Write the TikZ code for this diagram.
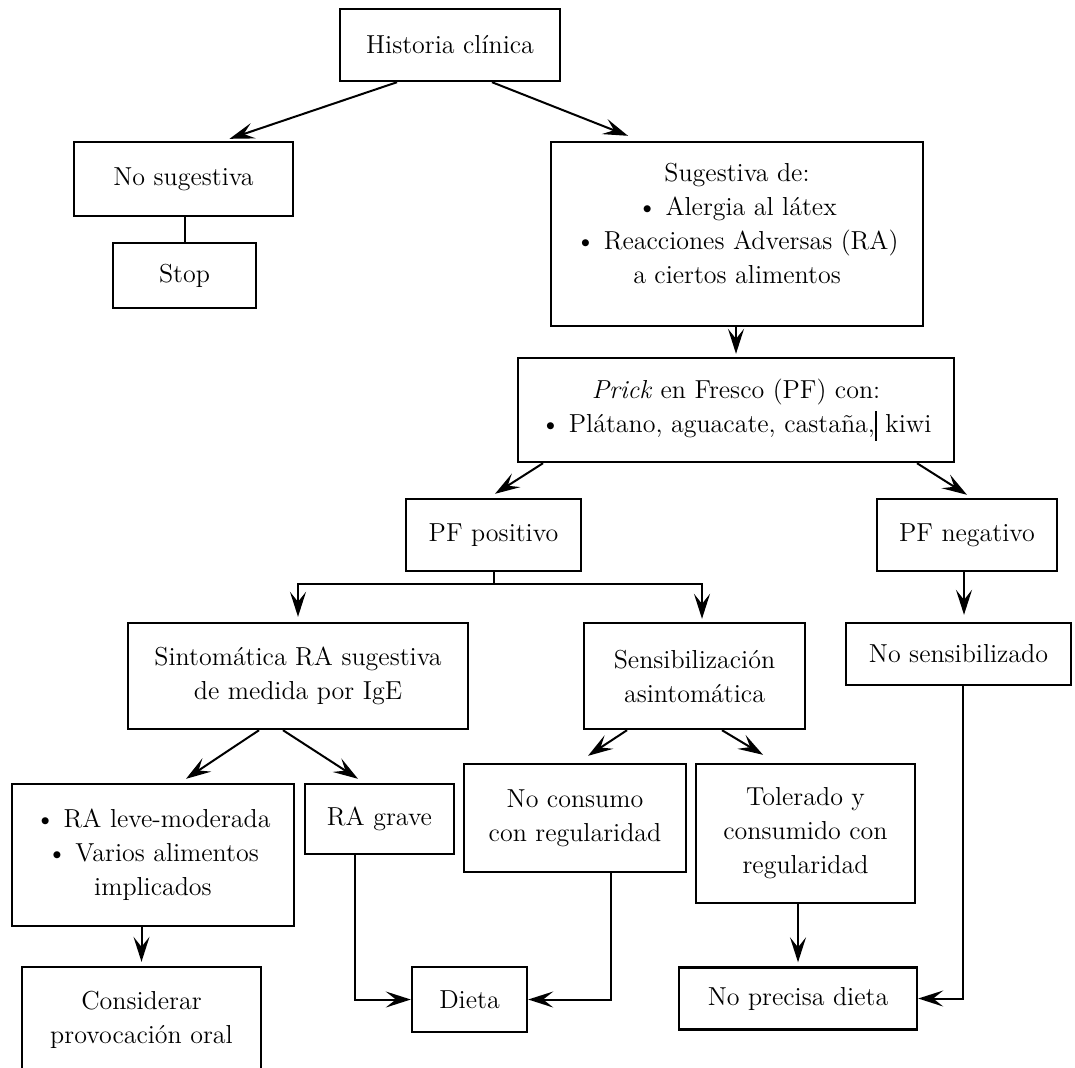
\documentclass[tikz,border=0pt]{standalone}
\usepackage{fontspec}
\usepackage{tikz}
\usetikzlibrary{arrows.meta, positioning, calc}

\begin{document}
\begin{tikzpicture}[
  x=0.5pt, y=-0.5pt,
  >={Stealth[length=12.5pt, width=8pt, inset=5pt]},
  box/.style={
    draw, line width=1.2pt, inner sep=2pt, align=center,
    font=\fontsize{13}{17}\selectfont
  },
  arr/.style={->, line width=1pt},
  link/.style={line width=1pt},
]

%%% Canvas (pixel grid of the page)
\useasboundingbox (0,0) rectangle (1075,1067);
\clip (0,0) rectangle (1075,1067);

%%% Row 1
\node[box, minimum width=110pt, minimum height=36pt] (hist) at (450,45)
  {Historia clínica};

%%% Row 2
\node[box, minimum width=109.5pt, minimum height=37pt] (nosug) at (183.5,179)
  {No sugestiva};
\node[box, minimum width=71.5pt, minimum height=32.5pt] (stop) at (184.5,275.5)
  {Stop};
\node[box, minimum width=186pt, minimum height=92pt] (sug) at (737,234)
  {Sugestiva de:\\ \textbullet\ Alergia al látex\\
   \textbullet\ Reacciones Adversas (RA)\\ a ciertos alimentos\\[-6pt]};

%%% Row 3
\node[box, minimum width=218pt, minimum height=52pt] (prick) at (736,410)
  {\textit{Prick} en Fresco (PF) con:\\
   \textbullet\ Plátano, aguacate, castaña,\rule[-4pt]{1pt}{15pt}\ kiwi};

%%% Row 4
\node[box, minimum width=87.5pt, minimum height=36pt] (pfpos) at (493.5,535)
  {PF positivo};
\node[box, minimum width=90pt, minimum height=36pt] (pfneg) at (967,535)
  {PF negativo};

%%% Row 5
\node[box, minimum width=170pt, minimum height=53pt] (sint) at (298,676)
  {Sintomática RA sugestiva\\ de medida por IgE};
\node[box, minimum width=110.5pt, minimum height=53pt] (sens) at (694.5,676)
  {Sensibilización\\ asintomática};
\node[box, minimum width=112.5pt, minimum height=31pt] (nosens) at (958.5,654)
  {No sensibilizado};

%%% Row 6
\node[box, minimum width=141pt, minimum height=71pt] (leve) at (153,855)
  {\textbullet\ RA leve-moderada\\ \textbullet\ Varios alimentos\\ implicados};
\node[box, minimum width=74.5pt, minimum height=35pt] (grave) at (379.5,819)
  {RA grave};
\node[box, minimum width=111pt, minimum height=54pt] (nocons) at (575,818)
  {No consumo\\ con regularidad};
\node[box, minimum width=109.5pt, minimum height=69.5pt] (toler) at (805.5,833.5)
  {Tolerado y\\ consumido con\\ regularidad};

%%% Row 7 (bottom of Considerar runs off the page)
\node[box, minimum width=119.5pt, minimum height=53pt] (consid) at (141.5,1020)
  {Considerar\\ provocación oral};
\node[box, minimum width=57.5pt, minimum height=32.5pt] (dieta) at (469.5,999.5)
  {Dieta};
\node[box, minimum width=119pt, minimum height=31pt] (noprec) at (798,998.5)
  {No precisa dieta};

%%% Connectors
\draw[arr] ([xshift=-26.5pt]hist.south) -- ([xshift=23pt,yshift=1pt]nosug.north);
\draw[arr] ([xshift=21pt]hist.south) -- ([xshift=-54.5pt,yshift=2.5pt]sug.north);
\draw[link] (nosug.south -| stop.north) -- (stop.north);
\draw[arr] (sug.south -| prick.north) -- ([yshift=1.5pt]prick.north);

\draw[arr] ([xshift=-96.5pt]prick.south) -- ([xshift=0.75pt,yshift=2pt]pfpos.north);
\draw[arr] ([xshift=90.5pt]prick.south) -- ([yshift=1.5pt]pfneg.north);

\draw[link] (pfpos.south) -- ++(0,12) coordinate (br);
\draw[arr] (br) -| ([yshift=2.5pt]sint.north);
\draw[arr] (br) -| ([xshift=3.75pt,yshift=1.5pt]sens.north);
\draw[arr, shorten >=3.5pt] ([xshift=-1.5pt]pfneg.south)
  -- ([xshift=-1.5pt]pfneg.south |- nosens.north);

\draw[arr] ([xshift=-19.5pt]sint.south) -- ([xshift=16.5pt,yshift=2pt]leve.north);
\draw[arr] ([xshift=-7.5pt]sint.south) -- ([xshift=-10.75pt,yshift=2pt]grave.north);
\draw[arr] ([xshift=-33.75pt]sens.south) -- ([xshift=6.5pt,yshift=3.5pt]nocons.north);
\draw[arr] ([xshift=13.75pt]sens.south) -- ([xshift=-21.25pt,yshift=4pt]toler.north);

\draw[arr] (leve.south -| consid.north) -- ([yshift=2pt]consid.north);
\draw[arr] ([xshift=-12.25pt]grave.south) |- (dieta.west);
\draw[arr] ([xshift=18pt]nocons.south) |- (dieta.east);
\draw[arr] (toler.south -| noprec.north) -- ([yshift=2pt]noprec.north);
\draw[arr] ([xshift=2.25pt]nosens.south) |- (noprec.east);

\end{tikzpicture}
\end{document}
